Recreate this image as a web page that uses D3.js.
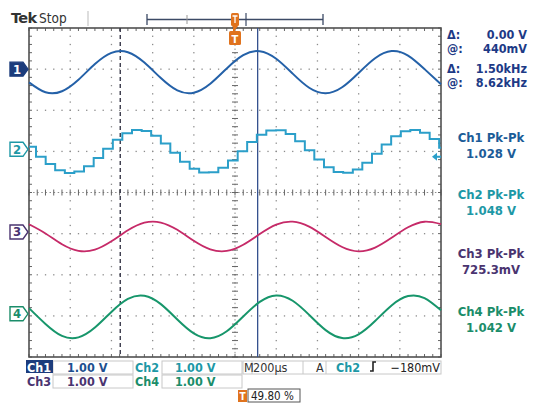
<!DOCTYPE html>
<html>
<head>
<meta charset="utf-8">
<script src="https://cdn.jsdelivr.net/npm/d3@7"></script>
<style>
  html, body { margin: 0; padding: 0; background: #fff; }
  svg { display: block; font-family: "DejaVu Sans Condensed", "DejaVu Sans", sans-serif; }
</style>
</head>
<body>
<svg id="scope" width="536" height="403"></svg>
<script>
// ---- acquisition: 10 divisions x 200 µs, 8 divisions x 1.00 V ----
const timebaseUs = 200;
const channelNames = ["Ch1", "Ch2", "Ch3", "Ch4"];
const voltsPerDiv = [1.00, 1.00, 1.00, 1.00];
const groundDiv = [3.0, 1.05, -0.96, -2.95];   // channel offsets in divisions from centre

// sampled traces (time in µs, level in V)
const sampleTimes = [0, 80, 160, 240, 320, 400, 480, 560, 640, 720, 800, 880, 960,
  1040, 1120, 1200, 1280, 1360, 1440, 1520, 1600, 1680, 1760, 1840, 1920, 2000];
const ch1Volts = [-0.321, -0.563, -0.538, -0.258, 0.123, 0.395, 0.411, 0.160, -0.218,
  -0.518, -0.574, -0.356, 0.017, 0.340, 0.436, 0.253, -0.110, -0.453, -0.588, -0.441,
  -0.093, 0.265, 0.438, 0.329, 0.000, -0.370];
const ch3Volts = [0.187, -0.036, -0.299, -0.459, -0.430, -0.227, 0.040, 0.226, 0.230,
  0.052, -0.214, -0.423, -0.462, -0.310, -0.050, 0.179, 0.252, 0.130, -0.122, -0.366,
  -0.472, -0.381, -0.143, 0.113, 0.249, 0.191];
const ch4Volts = [0.139, -0.246, -0.537, -0.573, -0.335, 0.046, 0.363, 0.440, 0.236,
  -0.138, -0.475, -0.593, -0.425, -0.065, 0.291, 0.448, 0.318, -0.026, -0.396, -0.589,
  -0.499, -0.176, 0.204, 0.431, 0.383, 0.084];

// Ch2 is a sample-and-hold (DAC) staircase
const ch2StepTimes = [0, 34, 81, 127, 174, 220, 267, 314, 360, 407, 453, 500, 547, 593,
  640, 686, 733, 780, 826, 873, 919, 966, 1013, 1059, 1106, 1152, 1199, 1246, 1292, 1339,
  1385, 1432, 1479, 1525, 1572, 1618, 1665, 1712, 1758, 1805, 1851, 1898, 1945, 1991, 2000];
const ch2StepVolts = [0.06, -0.18, -0.357, -0.508, -0.573, -0.537, -0.409, -0.212, 0.016,
  0.231, 0.393, 0.470, 0.448, 0.331, 0.141, -0.085, -0.305, -0.475, -0.565, -0.557,
  -0.451, -0.270, -0.046, 0.177, 0.357, 0.459, 0.464, 0.371, 0.197, -0.023, -0.249,
  -0.437, -0.550, -0.569, -0.489, -0.324, -0.108, 0.120, 0.315, 0.440, 0.472, 0.404,
  0.250, 0.039, 0.039];

// cursors, trigger and measurement readouts
const cursorTimesUs = [443, 1110];
const triggerTimeUs = 1000;
const triggerLevelV = -0.180;
const cursorLabels = [["Δ:", "0.00 V"], ["@:", "440mV"], ["Δ:", "1.50kHz"], ["@:", "8.62kHz"]];
const pkPkLabels = ["Ch1 Pk-Pk", "Ch2 Pk-Pk", "Ch3 Pk-Pk", "Ch4 Pk-Pk"];
const pkPkValues = ["1.028 V", "1.048 V", "725.3mV", "1.042 V"];
const scaleLabels = ["1.00 V", "1.00 V", "1.00 V", "1.00 V"];
const horizLabel = "200µs";
const triggerLabel = "−180mV";
const triggerPosLabel = "49.80 %";

const colors = {
  trace: ["#2461a8", "#2b9fc9", "#c62a68", "#17966b"],
  text:  ["#1c5c98", "#1d98a6", "#4a3470", "#1b8d6a"],
  marker: ["#1c3c7c", "#1d98a6", "#4a3470", "#1b8d6a"],
  cursorText: "#1d3a86",
  grid: "#8c8c8c",
  frame: "#505050",
  orange: "#e0731e"
};

const svg = d3.select("#scope");
const G = { left: 29, right: 441, top: 28, bottom: 357 };

const x = d3.scaleLinear().domain([0, 10 * timebaseUs]).range([G.left, G.right]);
const yDiv = d3.scaleLinear().domain([-4, 4]).range([G.bottom, G.top]);
const xDiv = d3.scaleLinear().domain([0, 10]).range([G.left, G.right]);
const yCh = ch => v => yDiv(groundDiv[ch] + v / voltsPerDiv[ch]);

// ---- graticule ----
const grat = svg.append("g");
const minor = d3.range(0, 50.001, 1).map(i => i / 5);
const minorV = d3.range(0, 40.001, 1).map(i => i / 5 - 4);

// dotted division lines
[1, 2, 3, 4, 6, 7, 8, 9].forEach(d => {
  grat.selectAll(null).data(minorV.slice(1, -1)).join("rect")
    .attr("x", xDiv(d) - 0.6).attr("y", v => yDiv(v) - 0.6)
    .attr("width", 1.3).attr("height", 1.3).attr("fill", colors.grid);
});
[-3, -2, -1, 1, 2, 3].forEach(d => {
  grat.selectAll(null).data(minor.slice(1, -1)).join("rect")
    .attr("x", v => xDiv(v) - 0.6).attr("y", yDiv(d) - 0.6)
    .attr("width", 1.3).attr("height", 1.3).attr("fill", colors.grid);
});
// centre cross with minor ticks
grat.append("line").attr("x1", xDiv(5)).attr("x2", xDiv(5)).attr("y1", G.top).attr("y2", G.bottom)
  .attr("stroke", colors.grid).attr("stroke-width", 1).attr("stroke-dasharray", "1.5,2.6");
grat.append("line").attr("y1", yDiv(0)).attr("y2", yDiv(0)).attr("x1", G.left).attr("x2", G.right)
  .attr("stroke", colors.grid).attr("stroke-width", 1).attr("stroke-dasharray", "1.5,2.6");
grat.selectAll(null).data(minorV).join("line")
  .attr("x1", xDiv(5) - 3).attr("x2", xDiv(5) + 3)
  .attr("y1", v => yDiv(v)).attr("y2", v => yDiv(v))
  .attr("stroke", "#666").attr("stroke-width", 1);
grat.selectAll(null).data(minor).join("line")
  .attr("y1", yDiv(0) - 3).attr("y2", yDiv(0) + 3)
  .attr("x1", v => xDiv(v)).attr("x2", v => xDiv(v))
  .attr("stroke", "#666").attr("stroke-width", 1);
// frame with edge ticks
grat.selectAll(null).data(minor).join("line")
  .attr("x1", v => xDiv(v)).attr("x2", v => xDiv(v))
  .attr("y1", G.top).attr("y2", G.top + 3).attr("stroke", "#666");
grat.selectAll(null).data(minor).join("line")
  .attr("x1", v => xDiv(v)).attr("x2", v => xDiv(v))
  .attr("y1", G.bottom).attr("y2", G.bottom - 3).attr("stroke", "#666");
grat.selectAll(null).data(minorV).join("line")
  .attr("y1", v => yDiv(v)).attr("y2", v => yDiv(v))
  .attr("x1", G.left).attr("x2", G.left + 3).attr("stroke", "#666");
grat.selectAll(null).data(minorV).join("line")
  .attr("y1", v => yDiv(v)).attr("y2", v => yDiv(v))
  .attr("x1", G.right).attr("x2", G.right - 3).attr("stroke", "#666");
grat.append("rect").attr("x", G.left).attr("y", G.top)
  .attr("width", G.right - G.left).attr("height", G.bottom - G.top)
  .attr("fill", "none").attr("stroke", colors.frame).attr("stroke-width", 1.6);

// ---- time cursors ----
svg.append("line").attr("x1", x(cursorTimesUs[0])).attr("x2", x(cursorTimesUs[0]))
  .attr("y1", G.top).attr("y2", G.bottom)
  .attr("stroke", "#3a3a4a").attr("stroke-width", 1.4).attr("stroke-dasharray", "4,3");
svg.append("line").attr("x1", x(cursorTimesUs[1])).attr("x2", x(cursorTimesUs[1]))
  .attr("y1", G.top).attr("y2", G.bottom)
  .attr("stroke", "#34508e").attr("stroke-width", 1.3);

// ---- traces ----
const smooth = (times, volts, ch) => d3.line()
  .x((d, i) => x(times[i])).y(d => yCh(ch)(d))
  .curve(d3.curveNatural)(volts);

svg.append("path").attr("d", smooth(sampleTimes, ch1Volts, 0))
  .attr("fill", "none").attr("stroke", colors.trace[0]).attr("stroke-width", 2);
svg.append("path")
  .attr("d", d3.line().x((d, i) => x(ch2StepTimes[i])).y(d => yCh(1)(d))
    .curve(d3.curveStepAfter)(ch2StepVolts))
  .attr("fill", "none").attr("stroke", colors.trace[1]).attr("stroke-width", 2);
svg.append("path").attr("d", smooth(sampleTimes, ch3Volts, 2))
  .attr("fill", "none").attr("stroke", colors.trace[2]).attr("stroke-width", 1.8);
svg.append("path").attr("d", smooth(sampleTimes, ch4Volts, 3))
  .attr("fill", "none").attr("stroke", colors.trace[3]).attr("stroke-width", 2);

// ---- channel ground markers ----
channelNames.forEach((name, ch) => {
  const yc = yCh(ch)(0);
  const g = svg.append("g").attr("transform", `translate(10,${yc})`);
  const filled = ch === 0;
  g.append("path").attr("d", "M0,-7 L13,-7 L18,0 L13,7 L0,7 Z")
    .attr("fill", filled ? colors.marker[0] : "#fff")
    .attr("stroke", colors.marker[ch]).attr("stroke-width", 1.4);
  g.append("text").attr("x", 7).attr("y", 4.5).attr("text-anchor", "middle")
    .attr("font-size", 13).attr("font-weight", "bold")
    .attr("fill", filled ? "#fff" : colors.marker[ch]).text(String(ch + 1));
});

// trigger level arrow at right edge (Ch2 source)
const ty = yCh(1)(triggerLevelV);
svg.append("path").attr("d", `M${G.right - 9},${ty} L${G.right - 4},${ty - 4} L${G.right - 4},${ty + 4} Z M${G.right - 5},${ty - 1} h5 v2 h-5 Z`)
  .attr("fill", colors.trace[1]);

// trigger position marker below the top frame
const tx = x(triggerTimeUs);
svg.append("path").attr("d", `M${tx - 1},${G.top} v3`).attr("stroke", colors.orange).attr("stroke-width", 2);
svg.append("rect").attr("x", tx - 6).attr("y", 31).attr("width", 12).attr("height", 14)
  .attr("rx", 1.5).attr("fill", colors.orange);
svg.append("text").attr("x", tx).attr("y", 42.5).attr("text-anchor", "middle")
  .attr("font-size", 11).attr("font-weight", "bold").attr("fill", "#fff").text("T");

// ---- header: status and record bar ----
svg.append("text").attr("x", 11).attr("y", 23).attr("font-size", 14.5).attr("font-weight", "bold")
  .attr("fill", "#333").attr("font-family", "DejaVu Sans").attr("letter-spacing", -0.6).text("Tek");
svg.append("text").attr("x", 39).attr("y", 23).attr("font-size", 13.5)
  .attr("fill", "#333").text("Stop");
svg.append("line").attr("x1", 88).attr("x2", 88).attr("y1", 11).attr("y2", 26)
  .attr("stroke", "#bbb").attr("stroke-width", 1);

const rec = svg.append("g").attr("stroke", "#3c4a66").attr("fill", "none").attr("stroke-width", 1.3);
rec.append("path").attr("d", "M147,14 V25 M147,19.5 H323 M323,14 V25");
rec.append("path").attr("d", "M246,13 V26").attr("stroke-width", 1.2);
rec.append("path").attr("d", "M187,15 V24").attr("stroke", "#999").attr("stroke-width", 1);
svg.append("rect").attr("x", tx - 4).attr("y", 13).attr("width", 8).attr("height", 13)
  .attr("rx", 1.5).attr("fill", colors.orange);
svg.append("path").attr("d", `M${tx - 2.5},16 h5 M${tx},16 v7`).attr("stroke", "#fff").attr("stroke-width", 1.3);
svg.append("path").attr("d", `M${tx - 3},26 L${tx + 3},26 L${tx},30 Z`).attr("fill", colors.orange);

// ---- cursor readouts ----
const readY = [39, 53, 73, 87];
cursorLabels.forEach((pair, i) => {
  svg.append("text").attr("x", 447).attr("y", readY[i]).attr("font-size", 12.5)
    .attr("font-weight", "bold").attr("fill", colors.cursorText).text(pair[0]);
  svg.append("text").attr("x", 527).attr("y", readY[i]).attr("font-size", 12.5)
    .attr("text-anchor", "end").attr("font-weight", "bold").attr("fill", colors.cursorText).text(pair[1]);
});

// ---- peak-to-peak measurements ----
const pkY = [142, 199, 258, 316];
pkPkLabels.forEach((lab, i) => {
  svg.append("text").attr("x", 491).attr("y", pkY[i]).attr("text-anchor", "middle")
    .attr("font-size", 13).attr("font-weight", "bold").attr("fill", colors.text[i]).text(lab);
  svg.append("text").attr("x", 491).attr("y", pkY[i] + 15.5).attr("text-anchor", "middle")
    .attr("font-size", 13).attr("font-weight", "bold").attr("fill", colors.text[i]).text(pkPkValues[i]);
});

// ---- bottom status readouts ----
const sb = svg.append("g").attr("font-size", 12.5).attr("font-weight", "bold");
const boxStroke = "#c8c8c8";
// channel scale boxes
[[0, 53, 362], [1, 162, 362], [2, 53, 376], [3, 162, 376]].forEach(([ch, bx, by]) => {
  sb.append("rect").attr("x", bx).attr("y", by - 1).attr("width", 80).attr("height", 13)
    .attr("fill", "none").attr("stroke", boxStroke);
});
const rows = [371.5, 386];
[[0, 27, 0], [1, 135, 0], [2, 27, 1], [3, 135, 1]].forEach(([ch, lx, r]) => {
  if (ch === 0) {
    sb.append("rect").attr("x", 26).attr("y", 360).attr("width", 27).attr("height", 13)
      .attr("fill", colors.marker[0]);
  }
  sb.append("text").attr("x", lx).attr("y", rows[r])
    .attr("fill", ch === 0 ? "#fff" : colors.text[ch]).text(channelNames[ch]);
  sb.append("text").attr("x", lx + 40).attr("y", rows[r])
    .attr("fill", ch === 0 ? "#1d4f8f" : colors.text[ch]).text(scaleLabels[ch]);
});
// horizontal and trigger
sb.append("rect").attr("x", 243).attr("y", 361).attr("width", 198).attr("height", 13)
  .attr("fill", "none").attr("stroke", boxStroke);
sb.append("path").attr("d", "M252,361 v13 M303,361 v13 M326,361 v13").attr("stroke", boxStroke);
sb.append("text").attr("x", 244).attr("y", rows[0]).attr("font-weight", "normal").attr("fill", "#333").text("M");
sb.append("text").attr("x", 253).attr("y", rows[0]).attr("font-weight", "normal").attr("fill", "#333").text(horizLabel);
sb.append("text").attr("x", 316).attr("y", rows[0]).attr("font-weight", "normal").attr("fill", "#333").text("A");
sb.append("text").attr("x", 336).attr("y", rows[0]).attr("fill", colors.text[1]).text(channelNames[1]);
sb.append("path").attr("d", "M370,371 h3 v-9 h3").attr("stroke", "#222").attr("stroke-width", 1.6).attr("fill", "none");
sb.append("text").attr("x", 440).attr("y", rows[0]).attr("text-anchor", "end")
  .attr("font-weight", "normal").attr("fill", "#222").text(triggerLabel);
// trigger position
sb.append("rect").attr("x", 238).attr("y", 390).attr("width", 9).attr("height", 12).attr("fill", colors.orange);
sb.append("text").attr("x", 242.5).attr("y", 399.5).attr("text-anchor", "middle")
  .attr("font-size", 10).attr("fill", "#fff").text("T");
sb.append("rect").attr("x", 248).attr("y", 389).attr("width", 52).attr("height", 13)
  .attr("fill", "none").attr("stroke", "#555");
sb.append("text").attr("x", 251).attr("y", 399.5).attr("font-size", 11.5)
  .attr("font-weight", "normal").attr("fill", "#222").text(triggerPosLabel);
</script>
</body>
</html>
